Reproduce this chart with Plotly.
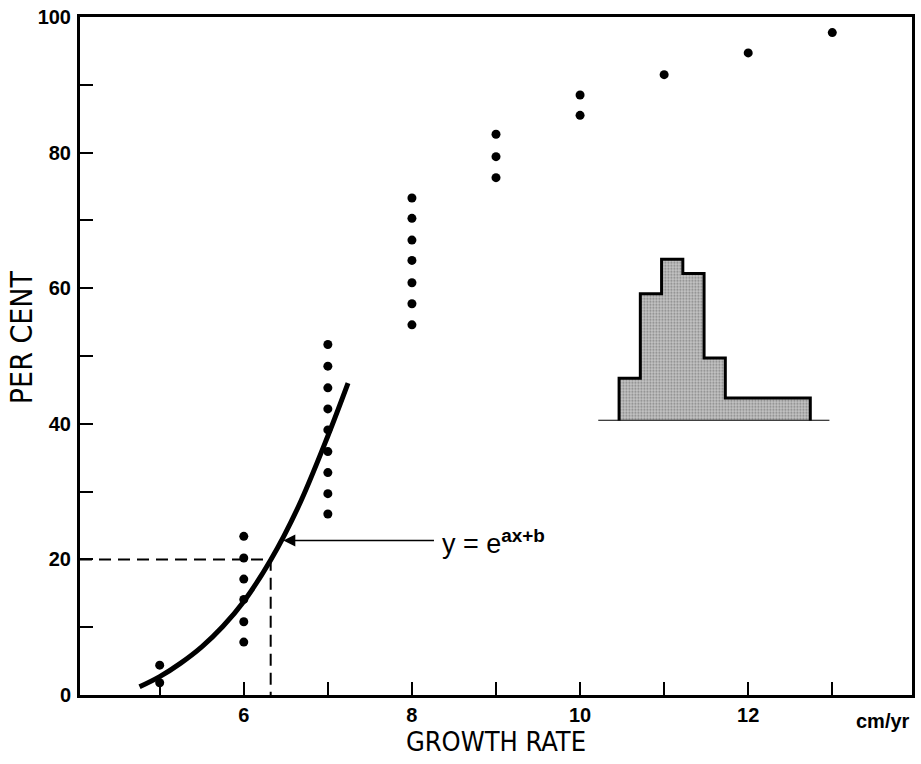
import plotly.graph_objects as go

# Observed growth rates (cm/yr) and cumulative percentages
rate_x = [5, 5,
          6, 6, 6, 6, 6, 6,
          7, 7, 7, 7, 7, 7, 7, 7, 7,
          8, 8, 8, 8, 8, 8, 8,
          9, 9, 9,
          10, 10,
          11, 12, 13]
pct_y = [4.4, 1.8,
         23.4, 20.2, 17.1, 14.1, 10.8, 7.8,
         51.7, 48.5, 45.3, 42.2, 39.1, 35.9, 32.8, 29.7, 26.7,
         73.3, 70.3, 67.1, 64.1, 60.8, 57.7, 54.6,
         82.7, 79.4, 76.3,
         88.5, 85.5,
         91.5, 94.7, 97.7]

# Fitted exponential curve y = e^(ax+b), lower tail
fit_x = [4.76, 5.0, 5.25, 5.5, 5.75, 6.0, 6.32, 6.65, 7.0, 7.24]
fit_y = [1.2, 2.7, 4.7, 7.1, 10.1, 13.8, 19.9, 27.8, 38.2, 46.0]

# Reading at 20 per cent
ref_pct = 20
ref_rate = 6.32

# Inset distribution (bin edges and heights)
hist_edges = [0, 1, 2, 3, 4, 5, 9]
hist_heights = [9.3, 27.7, 35.2, 32.1, 13.7, 5.0]

y_tickvals = list(range(0, 101, 10))
y_ticktext = ["<b>%d</b>" % v if v % 20 == 0 else "" for v in y_tickvals]
x_tickvals = list(range(5, 14))
x_ticktext = ["<b>%d</b>" % v if v % 2 == 0 else "" for v in x_tickvals]

BLACK = "#000000"
TITLE_FONT = "Liberation Sans Narrow, DejaVu Sans Condensed, Liberation Sans, sans-serif"
TICK_FONT = "Liberation Sans, Arial, sans-serif"

fig = go.Figure()

# Dashed guide lines at 20 per cent
fig.add_trace(go.Scatter(
    x=[4.052, ref_rate, ref_rate], y=[ref_pct, ref_pct, 0],
    mode="lines", line=dict(color=BLACK, width=2, dash="12px,7px"),
    hoverinfo="skip", showlegend=False))

# Fitted curve
fig.add_trace(go.Scatter(
    x=fit_x, y=fit_y, mode="lines",
    line=dict(color=BLACK, width=5, shape="spline", smoothing=1.0),
    showlegend=False))

# Data points
fig.add_trace(go.Scatter(
    x=rate_x, y=pct_y, mode="markers",
    marker=dict(color=BLACK, size=9), showlegend=False))

# Inset histogram
centers = [(hist_edges[i] + hist_edges[i + 1]) / 2 for i in range(len(hist_heights))]
widths = [hist_edges[i + 1] - hist_edges[i] for i in range(len(hist_heights))]
fig.add_trace(go.Bar(
    x=centers, y=hist_heights, width=widths,
    marker=dict(color="#b8b8b8", line=dict(width=0),
                pattern=dict(shape=".", fgcolor="#3c3c3c", bgcolor="#c8c8c8",
                             size=3, solidity=0.4)),
    xaxis="x2", yaxis="y2", showlegend=False, hoverinfo="skip"))

step_x = [hist_edges[0]] + hist_edges[:-1] + [hist_edges[-1]]
step_y = [0] + hist_heights + [0]
fig.add_trace(go.Scatter(
    x=step_x, y=step_y, mode="lines",
    line=dict(color=BLACK, width=3, shape="hv"),
    xaxis="x2", yaxis="y2", showlegend=False, hoverinfo="skip"))
fig.add_trace(go.Scatter(
    x=[-0.98, 9.9], y=[0, 0], mode="lines",
    line=dict(color=BLACK, width=2),
    xaxis="x2", yaxis="y2", showlegend=False, hoverinfo="skip"))

# Arrow pointing to the curve and its label
fig.add_annotation(x=6.47, y=22.8, ax=8.28, ay=22.8, xref="x", yref="y",
                   axref="x", ayref="y", text="", showarrow=True,
                   arrowhead=2, arrowsize=1.6, arrowwidth=1.5, arrowcolor=BLACK)
fig.add_annotation(x=8.33, y=22.6, xref="x", yref="y", xanchor="left", yanchor="middle",
                   text="y = e<sup><b>ax+b</b></sup>", showarrow=False,
                   font=dict(family="Liberation Sans, sans-serif", size=27, color=BLACK))

# Unit label
fig.add_annotation(x=1, y=0, xref="paper", yref="paper", xanchor="right", yanchor="top",
                   yshift=-13, text="<b>cm/yr</b>", showarrow=False,
                   font=dict(family=TICK_FONT, size=20, color=BLACK))

# Vertical axis title
fig.add_annotation(x=-0.0707, y=0.528, xref="paper", yref="paper",
                   xanchor="center", yanchor="middle", textangle=-90,
                   text="PER CENT", showarrow=False,
                   font=dict(family=TITLE_FONT, size=30, color=BLACK))

axis_common = dict(showgrid=False, zeroline=False, showline=True, linecolor=BLACK,
                   linewidth=3, mirror=True, ticks="inside", ticklen=13, tickwidth=2,
                   tickcolor=BLACK,
                   tickfont=dict(family=TICK_FONT, size=20, color=BLACK))

fig.update_layout(
    width=921, height=764,
    margin=dict(l=80, r=6, t=15, b=69),
    paper_bgcolor="white", plot_bgcolor="white",
    xaxis=dict(range=[4.052, 13.948], tickvals=x_tickvals, ticktext=x_ticktext,
               title=dict(text="GROWTH RATE", standoff=6,
                          font=dict(family=TITLE_FONT, size=27, color=BLACK)),
               **axis_common),
    yaxis=dict(range=[0, 100], tickvals=y_tickvals, ticktext=y_ticktext,
               ticklabelstandoff=2, **axis_common),
    xaxis2=dict(domain=[0.6224, 0.9033], range=[-1, 10], anchor="y2", visible=False),
    yaxis2=dict(domain=[0.4044, 0.675], range=[0, 40], anchor="x2", visible=False),
    bargap=0,
)

fig.write_html("out.html")
